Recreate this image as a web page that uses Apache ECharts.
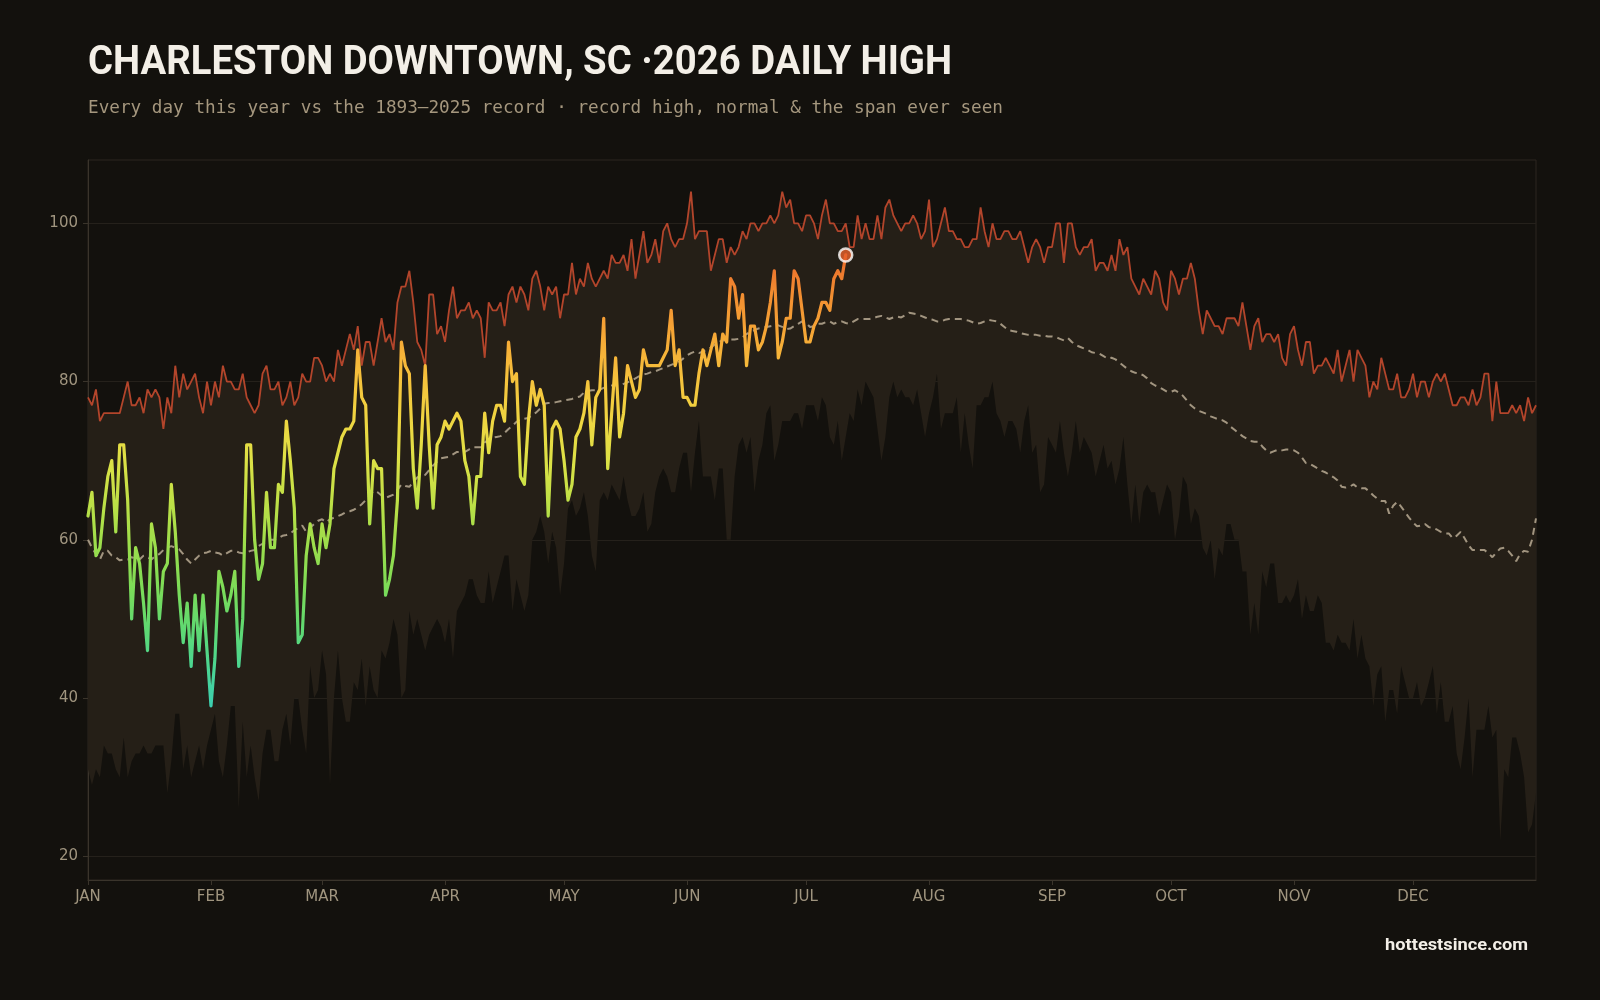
<!DOCTYPE html>
<html>
<head>
<meta charset="utf-8">
<script src="https://cdn.jsdelivr.net/npm/echarts@6/dist/echarts.min.js"></script>
<style>
html,body{margin:0;padding:0;background:#13110d;}
#chart{width:1600px;height:1000px;}
</style>
</head>
<body>
<div id="chart"></div>
<script>
// ---------- data ----------
const monthNames = ['JAN','FEB','MAR','APR','MAY','JUN','JUL','AUG','SEP','OCT','NOV','DEC'];
const monthStartDays = [0,31,59,90,120,151,181,212,243,273,304,334];
const yTickValues = [20,40,60,80,100];

// record daily high (1893–2025), day 0 = Jan 1
const recordHigh = [
78,77,79,75,76,76,76,76,76,78,80,77,77,78,76,79,78,79,78,74,78,76,82,78,81,79,80,81,78,76,80,77,80,78,82,80,80,79,79,81,78,77,76,77,81,82,79,79,80,77,78,80,77,78,81,80,80,83,83,82,80,81,
80,84,82,84,86,84,87,82,85,85,82,85,88,85,86,84,90,92,92,94,90,85,84,82,91,91,86,87,85,89,92,88,89,89,90,88,89,88,83,90,89,89,90,87,91,92,90,92,91,89,93,94,92,89,92,91,92,88,91,91,95,
91,93,92,95,93,92,93,94,93,96,95,95,96,94,98,93,96,99,95,96,98,95,99,100,98,97,98,98,100,104,98,99,99,99,94,96,98,98,95,97,96,97,99,98,100,100,99,100,100,101,100,101,104,102,103,100,100,99,101,101,100,
98,101,103,100,100,99,99,100,97,97,101,98,100,98,98,101,98,102,103,101,100,99,100,100,101,100,98,99,103,97,98,100,102,99,99,98,98,97,97,98,98,102,99,97,100,98,98,99,99,98,98,99,97,95,97,98,97,95,
97,97,100,100,95,100,100,97,96,97,97,98,94,95,95,94,96,94,98,96,97,93,92,91,93,92,91,94,93,90,89,94,93,91,93,93,95,93,89,86,89,88,87,87,86,88,88,88,87,90,87,84,87,88,85,86,86,85,86,83,82,
86,87,84,82,85,85,81,82,82,83,82,81,84,80,82,84,80,84,83,82,78,80,79,83,81,79,79,81,78,78,79,81,78,80,80,78,80,81,80,81,79,77,77,78,78,77,79,77,78,81,81,75,80,76,76,76,77,76,77,75,78,76,77
];

// lowest daily high ever seen (bottom of the span)
const recordLow = [
31,29,31,30,34,33,33,31,30,35,30,32,33,33,34,33,33,34,34,34,28,32,38,38,31,34,30,32,34,31,34,36,38,32,30,34,39,39,26,37,30,34,30,27,33,36,36,32,32,36,38,34,40,40,36,33,44,40,41,46,43,29,
40,46,40,37,37,42,41,45,39,44,41,40,46,45,47,50,48,40,41,51,48,50,48,46,48,49,50,49,47,50,45,51,52,53,55,55,53,52,52,56,52,54,56,58,58,51,55,53,51,53,60,61,63,61,57,61,59,53,57,64,65,
63,64,66,63,58,56,65,66,65,67,66,65,68,65,63,63,64,66,61,62,66,68,69,68,66,66,69,71,71,66,71,75,68,68,68,65,69,69,60,60,68,72,73,71,73,66,70,72,76,77,70,72,75,75,75,76,76,74,77,77,77,
75,78,77,73,72,75,70,73,76,75,79,77,80,79,78,74,70,73,78,80,78,79,78,78,77,79,76,73,76,78,81,74,76,76,76,78,71,76,72,69,77,77,78,78,80,76,75,73,75,75,74,71,75,77,71,72,66,67,73,72,
71,75,71,68,71,75,71,73,72,71,68,70,72,69,70,67,69,73,67,62,67,62,66,67,66,66,63,65,67,66,60,63,68,67,62,64,63,59,58,60,55,59,58,62,62,60,60,56,56,48,52,48,56,54,57,57,52,52,53,
52,53,55,50,53,51,51,53,52,47,47,46,48,47,47,46,50,45,48,45,44,39,43,44,37,41,41,38,44,42,40,40,42,39,40,42,44,38,42,37,37,39,33,31,35,40,30,36,36,36,39,35,36,22,31,30,35,35,33,30,23,24,28
];

// normal daily high
const normalHigh = [
60.0,59.0,58.2,57.5,58.6,58.6,58.0,57.8,57.4,57.5,57.5,57.8,57.6,57.5,58.0,57.8,57.5,58.0,58.2,58.7,59.0,59.2,59.0,58.8,58.2,57.5,57.0,57.5,58.0,58.3,58.4,58.6,58.4,58.3,58.0,58.3,58.6,58.6,58.4,58.3,58.4,58.6,58.7,59.2,59.5,59.8,60.0,60.0,60.2,60.5,60.6,60.8,61.2,61.5,61.8,61.0,61.5,62.0,62.4,62.6,62.2,62.6,
62.8,63.0,63.2,63.5,63.6,63.8,64.1,64.5,65.0,65.6,66.2,66.0,65.6,65.3,65.5,65.7,66.3,67.0,66.8,66.7,67.3,67.9,68.0,68.2,68.8,69.4,69.9,70.3,70.4,70.5,70.8,71.1,71.1,71.1,71.4,71.7,71.7,71.7,72.3,72.7,72.9,73.0,73.1,73.5,74.0,74.4,74.9,75.2,75.3,75.4,75.8,76.1,76.6,77.2,77.3,77.3,77.4,77.5,77.6,77.7,77.8,
78.0,78.1,78.6,78.8,78.9,78.9,79.0,79.2,79.4,79.5,79.5,79.5,79.7,79.9,80.1,80.4,80.7,80.9,81.0,81.2,81.3,81.5,81.7,81.9,82.1,82.3,82.5,82.9,83.3,83.6,83.8,83.6,83.8,84.0,84.3,84.7,85.0,85.2,85.3,85.3,85.3,85.4,85.6,86.0,86.3,86.5,86.7,86.8,86.9,87.0,87.1,87.1,86.9,86.6,86.7,87.0,87.3,87.6,87.4,86.9,87.0,
87.3,87.3,87.5,87.6,87.3,87.5,87.6,87.4,87.3,87.6,87.9,87.9,87.9,87.9,88.0,88.2,88.3,88.1,87.9,88.1,88.2,88.1,88.4,88.7,88.6,88.5,88.3,88.1,87.9,87.8,87.6,87.6,87.8,87.9,87.9,87.9,87.9,87.8,87.7,87.5,87.3,87.4,87.6,87.8,87.7,87.6,87.3,86.9,86.5,86.4,86.3,86.1,86.0,85.9,85.9,85.9,85.8,85.8,85.7,85.7,
85.6,85.4,85.2,85.5,85.0,84.6,84.4,84.2,84.0,83.7,83.6,83.5,83.2,82.9,83.0,82.8,82.4,82.0,81.6,81.3,81.1,81.0,80.8,80.4,79.8,79.5,79.3,79.0,78.7,78.7,78.9,78.6,78.2,77.6,77.0,76.6,76.3,76.1,75.9,75.6,75.4,75.2,75.1,74.8,74.3,73.9,73.5,73.1,72.8,72.5,72.4,72.4,71.8,71.3,71.0,71.2,71.4,71.3,71.4,
71.4,71.3,71.0,70.4,69.7,69.6,69.3,69.0,68.7,68.5,68.2,67.9,67.5,66.7,66.6,66.7,67.0,66.6,66.5,66.5,66.1,65.6,65.2,64.9,64.9,63.3,64.3,64.8,64.2,63.5,62.8,62.2,61.7,61.8,62.0,61.6,61.5,61.3,61.0,60.8,60.8,60.2,60.5,61.0,60.2,59.3,58.7,58.7,58.7,58.7,58.3,57.8,58.4,58.9,59.0,58.6,58.0,57.3,58.2,58.6,58.5,60.0,62.7
];

// 2026 observed daily high so far
const high2026 = [
63,66,58,59,64,68,70,61,72,72,65,50,59,57,52,46,62,59,50,56,57,67,61,53,47,52,44,53,46,53,46,39,45,56,54,51,53,56,44,50,72,72,60,55,57,66,59,59,67,66,75,70,64,47,48,58,62,59,57,62,59,62,
69,71,73,74,74,75,84,78,77,62,70,69,69,53,55,58,65,85,82,81,69,64,72,82,72,64,72,73,75,74,75,76,75,70,68,62,68,68,76,71,75,77,77,75,85,80,81,68,67,75,80,77,79,77,63,74,75,74,70,65,67,
73,74,76,80,72,78,79,88,69,76,83,73,76,82,80,78,79,84,82,82,82,82,83,84,89,82,84,78,78,77,77,81,84,82,84,86,82,86,85,93,92,88,91,82,87,87,84,85,87,90,94,83,85,88,88,94,93,89,85,85,87,
88,90,90,89,93,94,93,96
];

// ---------- derived ----------
const dayCategories = recordHigh.map((_, i) => String(i));
const spanSize = recordHigh.map((h, i) => h - recordLow[i]);
const lastDay = high2026.length - 1;
const monthByDay = {};
monthStartDays.forEach((d, i) => { monthByDay[d] = monthNames[i]; });
const monthSet = new Set(monthStartDays);

function measureText(text, font) {
  const ctx = document.createElement('canvas').getContext('2d');
  ctx.font = font;
  return ctx.measureText(text).width;
}
const titleText = 'CHARLESTON DOWNTOWN, SC \u00B72026 DAILY HIGH';
const titleFont = 'bold 40px Roboto';
const titleScale = 864 / measureText(titleText, titleFont);
const subText = 'Every day this year vs the 1893\u20132025 record \u00B7 record high, normal & the span ever seen';
const subFont = '17.7px "DejaVu Sans Mono"';
const subScale = 915 / measureText(subText, subFont);
const footText = 'hottestsince.com';
const footFont = 'bold 17px Roboto';
const footScale = 143 / measureText(footText, footFont);

const axisColor = '#3a342b';
const labelColor = '#a0957f';

const chart = echarts.init(document.getElementById('chart'), null, {renderer: 'canvas'});
chart.setOption({
  backgroundColor: '#13110d',
  animation: false,
  grid: {left: 88, right: 64, top: 160, bottom: 120, show: true, borderColor: '#2c2721', borderWidth: 1, backgroundColor: 'transparent'},
  xAxis: {
    type: 'category',
    data: dayCategories,
    boundaryGap: false,
    axisLine: {show: true, lineStyle: {color: axisColor, width: 1}},
    axisTick: {show: true, length: 5, interval: (i) => monthSet.has(i), lineStyle: {color: axisColor}},
    axisLabel: {
      interval: (i) => monthSet.has(i),
      formatter: (v) => monthByDay[Number(v)] || '',
      color: labelColor, fontFamily: 'DejaVu Sans', fontSize: 15, margin: 10
    },
    splitLine: {show: false}
  },
  yAxis: {
    type: 'value', min: 17, max: 108, splitNumber: 5,
    axisLine: {show: true, lineStyle: {color: axisColor}},
    axisTick: {show: true, length: 5, lineStyle: {color: axisColor}, customValues: yTickValues},
    axisLabel: {
      customValues: yTickValues,
      formatter: (v) => (v % 20 === 0 ? String(v) : ''),
      color: labelColor, fontFamily: 'DejaVu Sans', fontSize: 15, margin: 10
    },
    splitLine: {show: true, lineStyle: {color: '#25211b', width: 1}}
  },
  visualMap: {
    type: 'continuous', show: false, seriesIndex: 4, dimension: 1, min: 39, max: 96,
    inRange: {color: ['#3ccfb0','#4cd691','#62d96e','#80dc55','#9ede4b','#bfe046','#dde146','#efd541','#f6c13c','#f6a936','#f28e31','#ea6a2b']}
  },
  graphic: [
    {type: 'text', x: 88, y: 64, scaleX: titleScale, scaleY: 1,
     style: {text: titleText, font: titleFont, fill: '#f3efe7', align: 'left', verticalAlign: 'middle'}},
    {type: 'text', x: 88, y: 108, scaleX: subScale, scaleY: 1,
     style: {text: subText, font: subFont, fill: '#a5977e', align: 'left', verticalAlign: 'middle'}},
    {type: 'text', x: 1528, y: 946, scaleX: footScale, scaleY: 1,
     style: {text: footText, font: footFont, fill: '#f3efe7', align: 'right', verticalAlign: 'middle'}}
  ],
  series: [
    {name: 'Lowest high', type: 'line', data: recordLow, stack: 'span', symbol: 'none', silent: true,
     lineStyle: {width: 0, opacity: 0}, z: 1},
    {name: 'Span ever seen', type: 'line', data: spanSize, stack: 'span', symbol: 'none', silent: true,
     lineStyle: {width: 0, opacity: 0}, areaStyle: {color: '#251f17', opacity: 1}, z: 1},
    {name: 'Normal', type: 'line', data: normalHigh, symbol: 'none', silent: true,
     lineStyle: {color: '#a29580', width: 2, type: [7, 5]}, z: 3},
    {name: 'Record high', type: 'line', data: recordHigh, symbol: 'none', silent: true,
     lineStyle: {color: '#b3452b', width: 1.8}, z: 4},
    {name: '2026', type: 'line', data: high2026, symbol: 'none', silent: true,
     lineStyle: {width: 3.2, cap: 'round', join: 'round'}, z: 5},
    {name: 'Latest', type: 'scatter', data: [[lastDay, high2026[lastDay]]], symbolSize: 13, silent: true,
     itemStyle: {color: '#e8612c', borderColor: '#ffffff', borderWidth: 2.5}, z: 6}
  ]
});
</script>
</body>
</html>
